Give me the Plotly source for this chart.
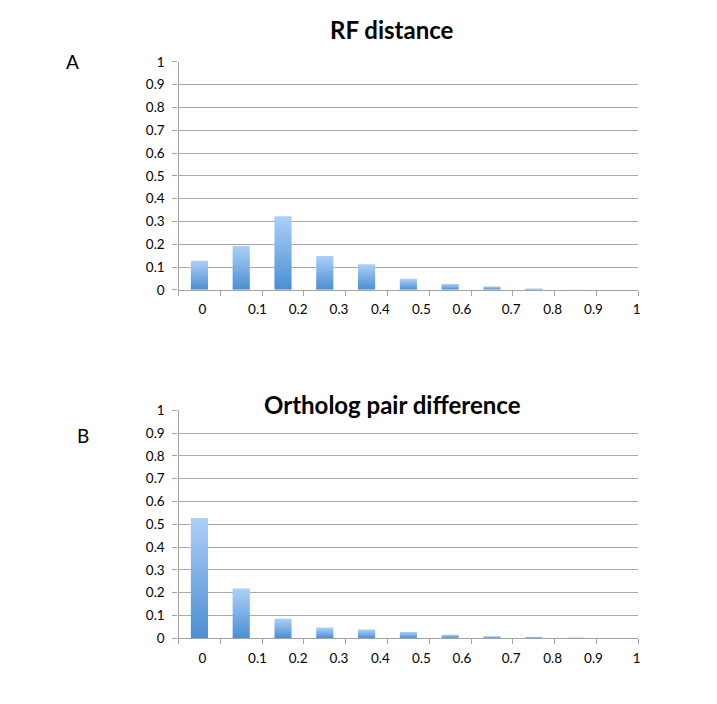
import plotly.graph_objects as go

# bins (category index)
bins = list(range(11))
rf_distance = [0.127, 0.192, 0.323, 0.148, 0.112, 0.048, 0.026, 0.015, 0.006, 0.001, 0.0]
ortholog_diff = [0.528, 0.218, 0.086, 0.047, 0.038, 0.028, 0.016, 0.009, 0.006, 0.003, 0.0]
x_labels = ["0", "0.1", "0.2", "0.3", "0.4", "0.5", "0.6", "0.7", "0.8", "0.9", "1"]
# Excel put the labels a bit off-centre; positions in category units
x_label_pos = [0.57, 1.89, 2.86, 3.84, 4.83, 5.81, 6.78, 7.96, 8.95, 9.93, 10.96]

DARK = "#4a8ed3"
LIGHT = "#acd0f8"
BAR_W = 0.41
FONT = "Lato, 'Open Sans', sans-serif"
W, H = 717, 704


# helpers: screen pixel -> paper fraction (page renders with a small offset)
def fx(px):
    return (px - 8) / W


def fy(py):
    return 1 - (py - 14) / 691


def gradient_bars(values, xaxis, yaxis):
    # one filled polygon per bar so each one gets its own top-to-bottom gradient
    traces = []
    for b, v in zip(bins, values):
        if v <= 0:
            continue
        c = b + 0.5
        traces.append(go.Scatter(
            x=[c - BAR_W / 2, c - BAR_W / 2, c + BAR_W / 2, c + BAR_W / 2, c - BAR_W / 2],
            y=[0, v, v, 0, 0],
            mode="lines", fill="toself",
            line=dict(width=0, color=DARK),
            fillgradient=dict(type="vertical", colorscale=[[0, DARK], [1, LIGHT]]),
            xaxis=xaxis, yaxis=yaxis, showlegend=False, hoverinfo="skip",
        ))
    return traces


fig = go.Figure(gradient_bars(rf_distance, "x", "y") + gradient_bars(ortholog_diff, "x2", "y2"))

xaxis_style = dict(
    range=[0, 11], tickvals=x_label_pos, ticktext=x_labels, ticks="",
    ticklabelstandoff=7, showgrid=False, zeroline=False,
    showline=True, linecolor="#a3a3a3", linewidth=1.3,
    minor=dict(tickvals=list(range(12)), ticks="outside", ticklen=5,
               tickcolor="#a3a3a3", tickwidth=1.3, showgrid=False),
    tickfont=dict(size=13.5, color="#000", family=FONT),
    domain=[fx(179), fx(640)], fixedrange=True,
)
yaxis_style = dict(
    range=[0, 1], dtick=0.1, ticks="outside", ticklen=5, tickcolor="#a3a3a3",
    tickwidth=1.3, showgrid=True, gridcolor="#a9a9a9", gridwidth=1.3,
    zeroline=False, showline=True, linecolor="#a3a3a3", linewidth=1.3,
    tickfont=dict(size=13.5, color="#000", family=FONT), ticklabelstandoff=5,
    fixedrange=True,
)

label_style = dict(xref="paper", yref="paper", xanchor="center", yanchor="middle",
                   showarrow=False)

fig.update_layout(
    width=W, height=H,
    margin=dict(l=0, r=0, t=0, b=0),
    paper_bgcolor="white", plot_bgcolor="white",
    font=dict(family=FONT, color="#000"),
    xaxis=dict(xaxis_style, anchor="y"),
    yaxis=dict(yaxis_style, domain=[fy(289), fy(60)], anchor="x"),
    xaxis2=dict(xaxis_style, anchor="y2"),
    yaxis2=dict(yaxis_style, domain=[fy(639), fy(410)], anchor="x2"),
    annotations=[
        dict(label_style, text="<b>RF distance</b>", x=fx(393), y=fy(28), font=dict(size=24)),
        dict(label_style, text="<b>Ortholog pair difference</b>", x=fx(394), y=fy(404),
             font=dict(size=24)),
        dict(label_style, text="A", x=fx(73), y=fy(60), font=dict(size=19)),
        dict(label_style, text="B", x=fx(83), y=fy(435), font=dict(size=19)),
    ],
)

fig.write_html("out.html")
